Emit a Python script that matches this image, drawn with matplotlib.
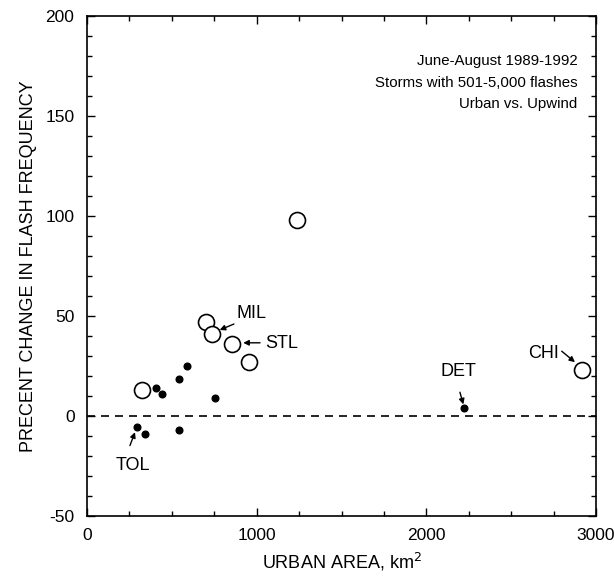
import matplotlib
matplotlib.use("Agg")
import matplotlib.pyplot as plt
from matplotlib.ticker import MultipleLocator

plt.rcParams['font.family'] = ['Liberation Sans', 'DejaVu Sans']
plt.rcParams['axes.unicode_minus'] = False

# Data
open_x = [325, 700, 735, 855, 955, 1240, 2920]
open_y = [13, 47, 41, 36, 27, 98, 23]
dot_x = [293, 340, 405, 440, 545, 590, 545, 752, 2220]
dot_y = [-5.5, -9, 14, 11, 18.5, 25, -7, 9, 4]

labels = ["MIL", "STL", "TOL", "DET", "CHI"]
label_xy = [(880, 51), (1049, 36.3), (268, -24.8), (2187, 22.3), (2688, 31.3)]
label_ha = ["left", "left", "center", "center", "center"]
arrow_tail = [(866, 46), (1020, 36.6), (253, -14.8), (2198, 11.9), (2798, 32.4)]
arrow_head = [(782, 43), (921, 36.6), (283, -8.1), (2218, 5.8), (2876, 26.9)]

title_lines = ["June-August 1989-1992", "Storms with 501-5,000 flashes", "Urban vs. Upwind"]
title_y = [177.5, 166.7, 155.9]

fig = plt.figure(figsize=(6.14, 5.77), dpi=100)
ax = fig.add_axes([87/614, 1-516/577, (596-87)/614, (516-16)/577])

ax.set_xlim(0, 3000)
ax.set_ylim(-50, 200)

ax.plot([0, 3000], [0, 0], color='black', lw=1.2, dashes=(4.8, 3.6), zorder=1)

ax.plot(open_x, open_y, 'o', ms=11.5, mfc='white', mec='black', mew=1.2,
        linestyle='none', zorder=3, clip_on=False)
ax.plot(dot_x, dot_y, 'o', ms=4.8, mfc='black', mec='black',
        linestyle='none', zorder=3)

for lab, xy, ha, t, h in zip(labels, label_xy, label_ha, arrow_tail, arrow_head):
    ax.text(xy[0], xy[1], lab, ha=ha, va='center', fontsize=13)
    ax.annotate("", xy=h, xytext=t,
                arrowprops=dict(arrowstyle='-|>', color='black', lw=1.0,
                                mutation_scale=8, shrinkA=0, shrinkB=0))

for line, y in zip(title_lines, title_y):
    ax.text(2890, y, line, ha='right', va='center', fontsize=10.8)

ax.xaxis.set_major_locator(MultipleLocator(1000))
ax.xaxis.set_minor_locator(MultipleLocator(250))
ax.yaxis.set_major_locator(MultipleLocator(50))
ax.yaxis.set_minor_locator(MultipleLocator(10))
ax.tick_params(which='both', direction='in', top=True, right=True, width=1.0)
ax.tick_params(which='major', length=6, labelsize=12.5)
ax.tick_params(axis='x', which='major', pad=9)
ax.tick_params(axis='y', which='major', pad=9)
ax.tick_params(which='minor', length=3.5)
for s in ax.spines.values():
    s.set_linewidth(1.2)

ax.set_xlabel("URBAN AREA, km$^2$", fontsize=13, labelpad=5)
ax.set_ylabel("PRECENT CHANGE IN FLASH FREQUENCY", fontsize=13, labelpad=6)

fig.savefig("out.png", dpi=100)
